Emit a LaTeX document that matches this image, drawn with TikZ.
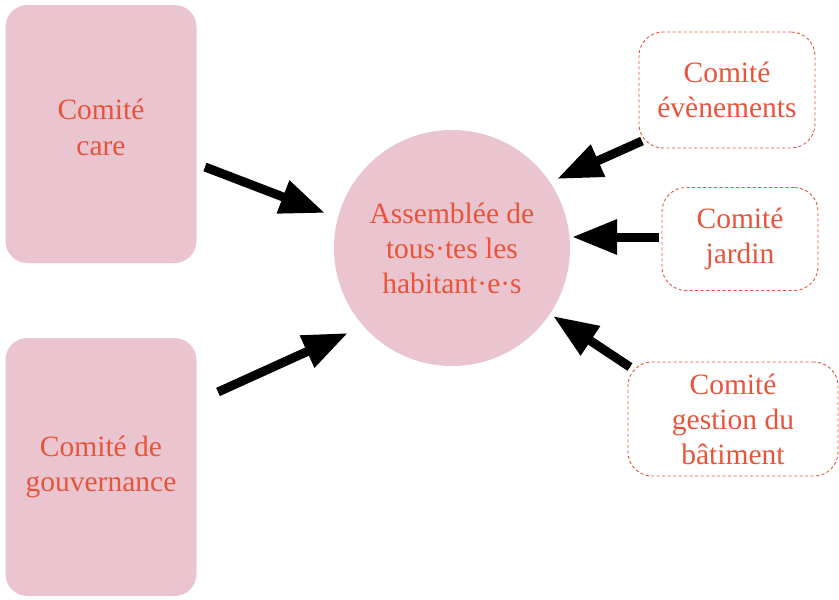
\documentclass[tikz,border=0pt]{standalone}
\usepackage{fontspec}
\setmainfont{Liberation Serif}
\usetikzlibrary{arrows.meta}

\definecolor{rose}{RGB}{234,196,207}
\definecolor{corail}{RGB}{232,84,58}

\begin{document}
\begin{tikzpicture}[x=1pt,y=-1pt,
    comite/.style={fill=rose, rounded corners=22pt, minimum width=191pt,
        minimum height=258pt, align=center, text=corail,
        font=\fontsize{29.5}{35.5}\selectfont},
    souscomite/.style={draw=corail, dashed, dash pattern=on 3pt off 2.5pt,
        line width=0.9pt, rounded corners=24pt, align=center, text=corail,
        font=\fontsize{29.5}{35}\selectfont},
    fleche/.style={line width=9pt, -{Triangle[length=45pt,width=33pt]}}]

\useasboundingbox (0,0) rectangle (839,600);

% les comites de gauche
\node[comite, text depth=14pt] (care) at (101,134) {Comité\\care};
\node[comite] (gouvernance) at (101,467) {Comité de\\gouvernance};

% l'assemblee
\node[circle, fill=rose, minimum size=236pt, align=center, text=corail,
    font=\fontsize{29.5}{35}\selectfont] (assemblee) at (452,248)
    {Assemblée de\\tous·tes les\\habitant·e·s};

% les comites de droite
\node[souscomite, minimum width=176pt, minimum height=116pt] (evenements)
    at (727,90) {Comité\\évènements};
\node[souscomite, minimum width=156pt, minimum height=103pt] (jardin)
    at (740,239) {Comité\\jardin};
\node[souscomite, minimum width=210pt, minimum height=114pt] (batiment)
    at (733,419) {Comité\\gestion du\\bâtiment};

% fleches vers l'assemblee
\coordinate (care-out) at (205,167);
\coordinate (care-in) at (325,213);
\coordinate (gouvernance-out) at (218,392);
\coordinate (gouvernance-in) at (348,333);
\coordinate (evenements-out) at (642,141);
\coordinate (evenements-in) at (557,179);
\coordinate (jardin-out) at (659,237);
\coordinate (jardin-in) at (572,237);
\coordinate (batiment-out) at (630,367);
\coordinate (batiment-in) at (553,316);

\foreach \c in {care,gouvernance,evenements,jardin,batiment}
  \draw[fleche] (\c-out) -- (\c-in);

\end{tikzpicture}
\end{document}
